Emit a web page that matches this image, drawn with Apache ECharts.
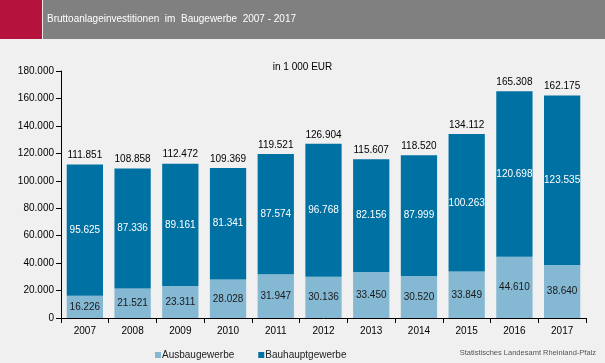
<!DOCTYPE html>
<html><head><meta charset="utf-8">
<script src="https://cdn.jsdelivr.net/npm/echarts@6/dist/echarts.min.js"></script>
<style>html,body{margin:0;padding:0;background:#eff0ef;}#c{width:605px;height:363px;}</style>
</head><body><div id="c"></div>
<script>
const categories = ['2007','2008','2009','2010','2011','2012','2013','2014','2015','2016','2017'];
const ausbau = [16226,21521,23311,28028,31947,30136,33450,30520,33849,44610,38640];
const bauhaupt = [95625,87336,89161,81341,87574,96768,82156,87999,100263,120698,123535];
const totals = [111851,108858,112472,109369,119521,126904,115607,118520,134112,165308,162175];
const seriesNames = ['Ausbaugewerbe','Bauhauptgewerbe'];
const titleText = 'Bruttoanlageinvestitionen  im  Baugewerbe  2007 - 2017';
const unitText = 'in 1 000 EUR';
const sourceText = 'Statistisches Landesamt Rheinland-Pfalz';

const fmt = v => String(v).replace(/\B(?=(\d{3})+(?!\d))/g, '.');
const FONT = '"Liberation Sans", Arial, sans-serif';

const chart = echarts.init(document.getElementById('c'), null, {renderer:'canvas'});
chart.setOption({
  backgroundColor:'#eff0ef',
  animation:false,
  textStyle:{fontFamily:FONT},
  graphic:[
    {type:'rect', shape:{x:0,y:0,width:605,height:39}, style:{fill:'#808080'}},
    {type:'rect', shape:{x:0,y:0,width:42,height:39}, style:{fill:'#b5123e'}},
    {type:'rect', shape:{x:42,y:0,width:1,height:39}, style:{fill:'#e8e8e8'}},
    {type:'text', left:47, top:14, style:{text:titleText, fill:'#ffffff', font:'10px '+FONT}},
    {type:'text', right:9, top:349, style:{text:sourceText, fill:'#555555', font:'7.5px '+FONT}}
  ],
  title:{text:unitText, left:'center', top:57, textStyle:{fontSize:10, fontWeight:'normal', color:'#000', fontFamily:FONT}},
  legend:{data:seriesNames, left:150, top:345, itemWidth:6, itemHeight:6, itemGap:24, icon:'rect',
    textStyle:{fontSize:10, color:'#222', fontFamily:FONT, padding:[0,0,0,-4]}},
  grid:{left:61, right:19, top:71, bottom:45},
  xAxis:{type:'category', data:categories,
    axisLine:{lineStyle:{color:'#000'}}, axisTick:{show:true, alignWithLabel:false, lineStyle:{color:'#000'}},
    axisLabel:{color:'#000', fontSize:10, margin:8, fontFamily:FONT}},
  yAxis:{type:'value', min:0, max:180000, interval:20000,
    axisLine:{show:true, lineStyle:{color:'#000'}}, axisTick:{show:true, lineStyle:{color:'#000'}},
    splitLine:{show:false},
    axisLabel:{color:'#000', fontSize:10, margin:7, formatter:fmt, fontFamily:FONT}},
  series:[
    {name:seriesNames[0], type:'bar', stack:'a', data:ausbau, barCategoryGap:'24%',
     itemStyle:{color:'#84b8d3'},
     label:{show:true, position:'inside', color:'#1a1a1a', fontSize:10, formatter:p=>fmt(p.value), fontFamily:FONT}},
    {name:seriesNames[1], type:'bar', stack:'a', data:bauhaupt,
     itemStyle:{color:'#0071a3'},
     label:{show:true, position:'inside', color:'#ffffff', fontSize:10, formatter:p=>fmt(p.value), fontFamily:FONT}},
    {name:'Summe', type:'bar', stack:'a', data:totals.map(()=>0),
     itemStyle:{color:'transparent'},
     label:{show:true, position:'top', distance:4, color:'#000', fontSize:10, formatter:p=>fmt(totals[p.dataIndex]), fontFamily:FONT}}
  ]
});
</script></body></html>
